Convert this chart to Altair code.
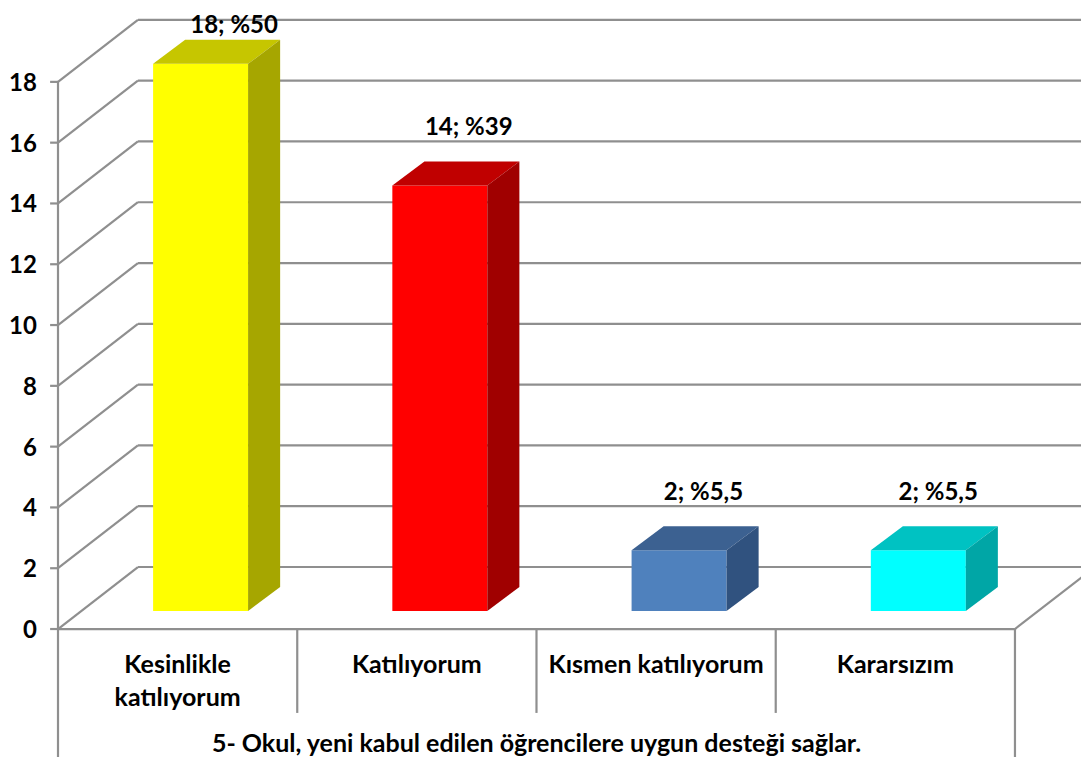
import altair as alt
import pandas as pd

# ---------------- data ----------------
categories = ["Kesinlikle katılıyorum", "Katılıyorum", "Kısmen katılıyorum", "Kararsızım"]
category_lines = [["Kesinlikle", "katılıyorum"], ["Katılıyorum"], ["Kısmen katılıyorum"], ["Kararsızım"]]
values = [18, 14, 2, 2]
percents = ["%50", "%39", "%5,5", "%5,5"]
y_ticks = [0, 2, 4, 6, 8, 10, 12, 14, 16, 18]
title_text = "5- Okul, yeni kabul edilen öğrencilere uygun desteği sağlar."

front_colors = ["#FFFF00", "#FF0000", "#4F81BD", "#00FFFF"]
top_colors = ["#C6C600", "#C00000", "#3C6191", "#00C2C2"]
side_colors = ["#A6A600", "#A00000", "#30527F", "#00A6A6"]

# ---------------- layout (category units / value units) ----------------
W, H = 1073, 749
X_MIN, X_MAX = -0.209, 4.276
Y_MIN, Y_MAX = -4.21, 20.43
WALL_DX, WALL_DY = 0.334, 2.04          # depth of the 3-D walls
BAR_DX, BAR_DY = 0.096, 0.592           # bar front face offset from floor front
DEPTH_DX, DEPTH_DY = 0.134, 0.79        # bar depth
BAR_W = 0.397
LABEL_X0, LABEL_STEP = 0.736, 0.981     # data-label anchor along the projected top
LABEL_DY, LABEL_CAP = 1.1, 19.85
FONT = "Lato"
FS = 25
GRID = "#8f8f8f"

xs = alt.Scale(domain=[X_MIN, X_MAX], nice=False, zero=False)
ys = alt.Scale(domain=[Y_MIN, Y_MAX], nice=False, zero=False)

# ---------------- walls, floor, category box ----------------
rules = []
top_tick = max(y_ticks)
for t in y_ticks:
    rules.append(dict(x=WALL_DX, x2=X_MAX, y=t + WALL_DY, y2=t + WALL_DY))   # back wall
    rules.append(dict(x=0, x2=WALL_DX, y=t, y2=t + WALL_DY))                 # side wall
    rules.append(dict(x=-0.033, x2=0, y=t, y2=t))                            # tick
n = len(categories)
rules.append(dict(x=0, x2=0, y=0, y2=top_tick))                              # value axis
rules.append(dict(x=0, x2=n, y=0, y2=0))                                     # floor front
rules.append(dict(x=n, x2=n + WALL_DX, y=0, y2=WALL_DY))                     # floor right
for i in range(1, n):
    rules.append(dict(x=i, x2=i, y=0, y2=-2.76))                             # dividers
rules.append(dict(x=0, x2=0, y=0, y2=Y_MIN))
rules.append(dict(x=n, x2=n, y=0, y2=Y_MIN))
rules_df = pd.DataFrame(rules)

rule_layer = alt.Chart(rules_df).mark_rule(color=GRID, strokeWidth=2.2, clip=True).encode(
    x=alt.X("x:Q", scale=xs, axis=None), x2="x2:Q",
    y=alt.Y("y:Q", scale=ys, axis=None), y2="y2:Q",
)

# ---------------- bars ----------------
bars = pd.DataFrame({
    "cat": categories,
    "value": values,
    "idx": list(range(n)),
})
bars["left"] = bars["idx"] + 0.5 - BAR_W / 2 + BAR_DX
bars["right"] = bars["left"] + BAR_W
bars["base"] = BAR_DY
bars["top"] = bars["value"] + BAR_DY

front = alt.Chart(bars).mark_rect().encode(
    x=alt.X("left:Q", scale=xs, axis=None), x2="right:Q",
    y=alt.Y("base:Q", scale=ys, axis=None), y2="top:Q",
    color=alt.Color("cat:N", scale=alt.Scale(domain=categories, range=front_colors), legend=None),
)

top_rows, side_rows = [], []
for c, v, l, r in zip(bars["cat"], bars["value"], bars["left"], bars["right"]):
    top_rows.append(dict(cat=c, y=v + BAR_DY, x1=l, x2=r))
    top_rows.append(dict(cat=c, y=v + BAR_DY + DEPTH_DY, x1=l + DEPTH_DX, x2=r + DEPTH_DX))
    side_rows.append(dict(cat=c, x=r, y1=BAR_DY, y2=v + BAR_DY))
    side_rows.append(dict(cat=c, x=r + DEPTH_DX, y1=BAR_DY + DEPTH_DY, y2=v + BAR_DY + DEPTH_DY))
top_df = pd.DataFrame(top_rows)
side_df = pd.DataFrame(side_rows)

top_face = alt.Chart(top_df).mark_area(orient="horizontal").encode(
    y=alt.Y("y:Q", scale=ys, axis=None),
    x=alt.X("x1:Q", scale=xs, axis=None), x2="x2:Q",
    detail="cat:N",
    color=alt.Color("cat:N", scale=alt.Scale(domain=categories, range=top_colors), legend=None),
)
side_face = alt.Chart(side_df).mark_area(orient="vertical").encode(
    x=alt.X("x:Q", scale=xs, axis=None),
    y=alt.Y("y1:Q", scale=ys, axis=None), y2="y2:Q",
    detail="cat:N",
    color=alt.Color("cat:N", scale=alt.Scale(domain=categories, range=side_colors), legend=None),
)

# ---------------- texts ----------------
lab = pd.DataFrame({
    "text": [f"{v}; {p}" for v, p in zip(values, percents)],
    "x": [LABEL_X0 + LABEL_STEP * i for i in range(n)],
    "y": [min(v + BAR_DY + DEPTH_DY + LABEL_DY, LABEL_CAP) for v in values],
})
bar_labels = alt.Chart(lab).mark_text(
    font=FONT, fontWeight="bold", fontSize=24, color="#000000", baseline="middle", align="center"
).encode(x=alt.X("x:Q", scale=xs, axis=None), y=alt.Y("y:Q", scale=ys, axis=None), text="text:N")

ytl = pd.DataFrame({"t": y_ticks, "x": [-0.088] * len(y_ticks), "s": [str(t) for t in y_ticks]})
y_labels = alt.Chart(ytl).mark_text(
    font=FONT, fontWeight="bold", fontSize=24, color="#000000", baseline="middle", align="right", dy=2
).encode(x=alt.X("x:Q", scale=xs, axis=None), y=alt.Y("t:Q", scale=ys, axis=None), text="s:N")

cl = pd.DataFrame({"lines": category_lines, "x": [i + 0.5 for i in range(n)], "y": [-0.79] * n})
cat_labels = alt.Chart(cl).mark_text(
    font=FONT, fontWeight="bold", fontSize=FS, color="#000000", baseline="top", align="center", lineHeight=33
).encode(x=alt.X("x:Q", scale=xs, axis=None), y=alt.Y("y:Q", scale=ys, axis=None), text="lines")

tl = pd.DataFrame({"text": [title_text], "x": [n / 2], "y": [-3.78]})
title_label = alt.Chart(tl).mark_text(
    font=FONT, fontWeight="bold", fontSize=FS, color="#000000", baseline="middle", align="center"
).encode(x=alt.X("x:Q", scale=xs, axis=None), y=alt.Y("y:Q", scale=ys, axis=None), text="text:N")

chart = alt.layer(
    rule_layer, front, top_face, side_face, bar_labels, y_labels, cat_labels, title_label
).properties(
    width=W, height=H, autosize=alt.AutoSizeParams(type="none"), padding=0
).configure_view(stroke=None).resolve_scale(color="independent")

chart.save("out.html", embed_options={"renderer": "svg", "actions": False})
